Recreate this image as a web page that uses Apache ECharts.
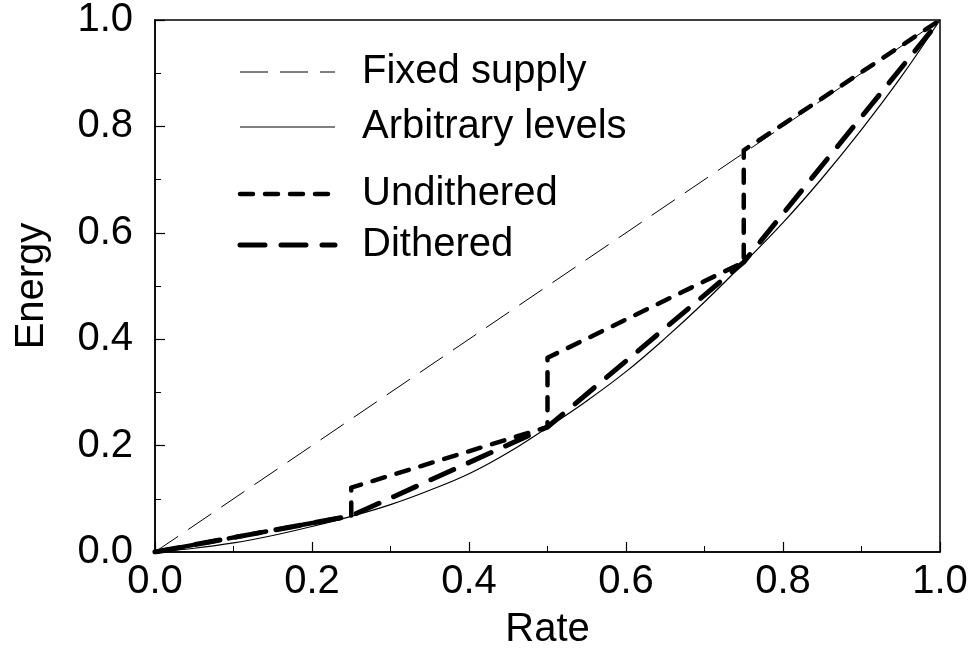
<!DOCTYPE html>
<html>
<head>
<meta charset="utf-8">
<script src="https://cdn.jsdelivr.net/npm/echarts@6/dist/echarts.min.js"></script>
<style>
  html, body { margin: 0; padding: 0; background: #fff; }
  #chart { width: 972px; height: 657px; }
</style>
</head>
<body>
<div id="chart"></div>
<script>
// Energy versus rate for four supply strategies
const fixedSupply = [[0, 0], [1, 1]];

const arbitraryRate   = [0, 0.05, 0.1, 0.15, 0.2, 0.25, 0.3, 0.35, 0.4, 0.45, 0.5,
                         0.55, 0.6, 0.65, 0.7, 0.75, 0.8, 0.85, 0.9, 0.95, 1.0];
const arbitraryEnergy = [0, 0.007, 0.017, 0.031, 0.048, 0.067, 0.089, 0.116, 0.147, 0.187, 0.234,
                         0.284, 0.339, 0.402, 0.47, 0.543, 0.619, 0.703, 0.794, 0.892, 1.0];

const unditheredRate   = [0, 0.25, 0.25, 0.5, 0.5, 0.75, 0.75, 1.0];
const unditheredEnergy = [0, 0.068, 0.121, 0.235, 0.365, 0.545, 0.755, 1.0];

const ditheredRate   = [0, 0.25, 0.5, 0.75, 1.0];
const ditheredEnergy = [0, 0.068, 0.235, 0.545, 1.0];

const tickValues = [0, 0.2, 0.4, 0.6, 0.8, 1.0];

const zip = (xs, ys) => xs.map((x, i) => [x, ys[i]]);

const FONT = '"Liberation Sans", Arial, Helvetica, sans-serif';
const FONT_SIZE = 40;

const chart = echarts.init(document.getElementById('chart'), null, { renderer: 'canvas' });

const axisCommon = {
  type: 'value',
  min: tickValues[0],
  max: tickValues[tickValues.length - 1],
  interval: 0.2,
  splitLine: { show: false },
  axisLine: { show: true, lineStyle: { color: '#000', width: 1.5 } },
  axisTick: { show: true, inside: true, length: 10, lineStyle: { color: '#000', width: 1.2 } },
  minorTick: { show: true, splitNumber: 2, length: 6, lineStyle: { color: '#000', width: 1 } },
  axisLabel: {
    color: '#000', fontSize: FONT_SIZE, fontFamily: FONT,
    formatter: v => v.toFixed(1)
  },
  nameLocation: 'middle',
  nameTextStyle: { color: '#000', fontSize: FONT_SIZE, fontFamily: FONT }
};

// Legend drawn as sample strokes with labels
const legendItems = [
  { label: 'Fixed supply',      y: 72,  width: 1,   dash: [28, 12] },
  { label: 'Arbitrary levels',  y: 127, width: 1,   dash: null },
  { label: 'Undithered',        y: 194, width: 4.5, dash: [13, 12] },
  { label: 'Dithered',          y: 245, width: 5,   dash: [25, 16] }
];

const legendGraphics = [];
legendItems.forEach(item => {
  legendGraphics.push({
    type: 'line',
    shape: { x1: 240, y1: item.y, x2: 335, y2: item.y },
    style: {
      stroke: '#000', lineWidth: item.width,
      lineDash: item.dash || null,
      lineCap: item.width > 2 ? 'round' : 'butt'
    }
  });
  legendGraphics.push({
    type: 'text',
    x: 362, y: item.y,
    style: {
      text: item.label, fill: '#000', font: FONT_SIZE + 'px ' + FONT,
      textVerticalAlign: 'middle', verticalAlign: 'middle'
    }
  });
});

chart.setOption({
  animation: false,
  backgroundColor: '#fff',
  grid: {
    left: 155, right: 32, top: 19, bottom: 105,
    show: true, borderColor: '#000', borderWidth: 1.5, backgroundColor: 'transparent'
  },
  xAxis: Object.assign({}, axisCommon, {
    name: 'Rate', nameGap: 58,
    axisLabel: Object.assign({}, axisCommon.axisLabel, { margin: 10 })
  }),
  yAxis: Object.assign({}, axisCommon, {
    name: 'Energy', nameGap: 103,
    axisLabel: Object.assign({}, axisCommon.axisLabel, { margin: 22 })
  }),
  graphic: legendGraphics,
  series: [
    {
      name: 'Fixed supply', type: 'line', symbol: 'none',
      data: fixedSupply,
      lineStyle: { color: '#000', width: 1, type: [28, 12] }
    },
    {
      name: 'Arbitrary levels', type: 'line', symbol: 'none', smooth: 0.4,
      data: zip(arbitraryRate, arbitraryEnergy),
      lineStyle: { color: '#000', width: 1.2, type: 'solid' }
    },
    {
      name: 'Undithered', type: 'line', symbol: 'none',
      data: zip(unditheredRate, unditheredEnergy),
      lineStyle: { color: '#000', width: 4.5, type: [13, 12], cap: 'round', join: 'round' }
    },
    {
      name: 'Dithered', type: 'line', symbol: 'none',
      data: zip(ditheredRate, ditheredEnergy),
      lineStyle: { color: '#000', width: 5, type: [25, 16], cap: 'round', join: 'round' }
    }
  ]
});
</script>
</body>
</html>
